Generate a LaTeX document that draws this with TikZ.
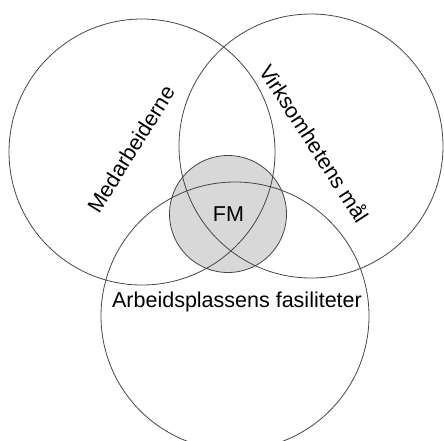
\documentclass[tikz,border=0pt]{standalone}
\usepackage{fontspec}
\setmainfont{Liberation Sans}
\definecolor{fmgray}{RGB}{216,216,216}
\definecolor{ringline}{RGB}{70,70,70}
\begin{document}
\begin{tikzpicture}[x=1pt,y=-1pt,
  ring/.style={circle, draw=ringline, line width=0.8pt, inner sep=0pt},
  lbl/.style={inner sep=0pt, font=\fontsize{21.5}{24}\selectfont, text=black}]
  % page frame
  \clip (0,0) rectangle (444,440);
  % shaded core where all three areas meet
  \node[ring, fill=fmgray, minimum size=117pt] (fm) at (228,214) {};
  % the three overlapping areas
  \node[ring, minimum size=266pt] (medarb) at (142,152) {};
  \node[ring, minimum size=264pt] (maal) at (311,146) {};
  \node[ring, minimum size=268pt] (fasil) at (235,316) {};
  % labels
  \node[lbl, rotate=58] (tmedarb) at (131,149) {Medarbeiderne};
  \node[lbl, rotate=-57] (tmaal) at (315,143) {Virksomhetens mål};
  \node[lbl, anchor=base] (tfasil) at (237,307.5) {Arbeidsplassens fasiliteter};
  \node[lbl, anchor=base] (tfm) at (228.5,221.5) {FM};
\end{tikzpicture}
\end{document}
